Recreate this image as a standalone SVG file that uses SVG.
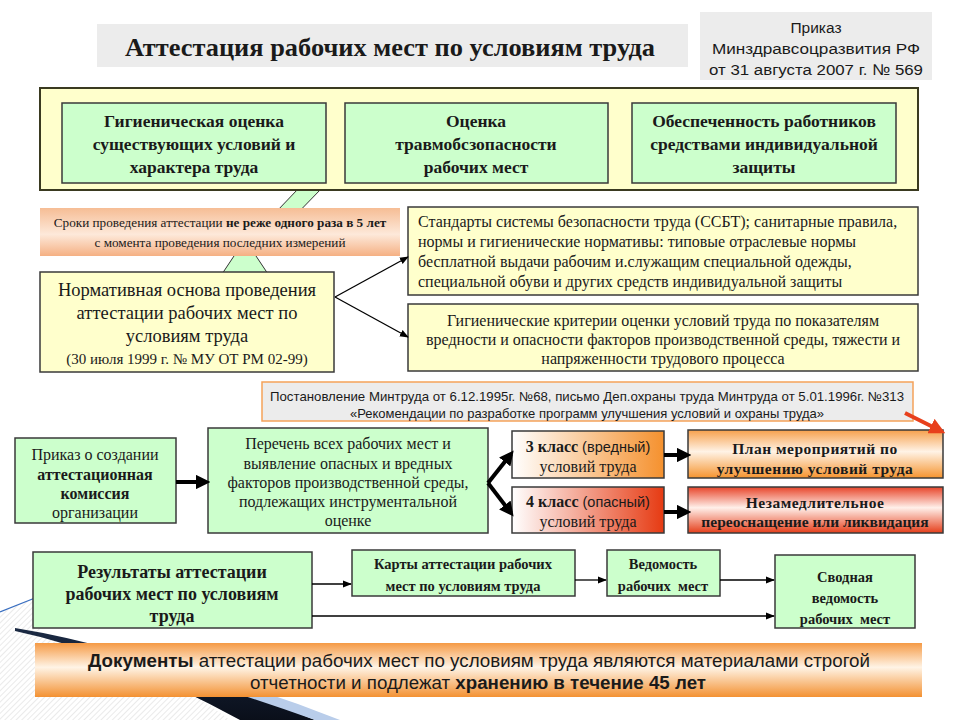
<svg xmlns="http://www.w3.org/2000/svg" width="960" height="720" viewBox="0 0 960 720">
<defs>
<style>
.bx{stroke:#3a3a3a;stroke-width:1.5}
.g{fill:#ccffcc}
.y{fill:#ffffcc}
.sf{font-family:"Liberation Serif","Times New Roman",serif;fill:#1a1a1a}
.ss{font-family:"Liberation Sans",Arial,sans-serif;fill:#1a1a1a}
.b{font-weight:bold}
.c{text-anchor:middle}
.thin{stroke:#000;stroke-width:1.3;fill:none}
.thick{stroke:#000;stroke-width:4;fill:none}
</style>
<marker id="ah" viewBox="0 0 10 10" refX="9" refY="5" markerWidth="9" markerHeight="9" markerUnits="userSpaceOnUse" orient="auto"><path d="M0,1 L10,5 L0,9 Z" fill="#000"/></marker>
<marker id="ahT" viewBox="0 0 10 10" refX="7" refY="5" markerWidth="3.6" markerHeight="3.6" orient="auto"><path d="M0,0 L10,5 L0,10 Z" fill="#000"/></marker>
<marker id="ahR" viewBox="0 0 10 10" refX="7" refY="5" markerWidth="4" markerHeight="4" orient="auto"><path d="M0,0 L10,5 L0,10 Z" fill="#e8401c"/></marker>
<linearGradient id="gSroki" x1="0" y1="0" x2="0" y2="1"><stop offset="0" stop-color="#f6bd95"/><stop offset="0.55" stop-color="#fde9da"/><stop offset="1" stop-color="#f5b083"/></linearGradient>
<linearGradient id="g3" x1="0" y1="0" x2="1" y2="0"><stop offset="0" stop-color="#ffffff"/><stop offset="1" stop-color="#f5912e"/></linearGradient>
<linearGradient id="g4" x1="0" y1="0" x2="1" y2="0"><stop offset="0" stop-color="#ffffff"/><stop offset="1" stop-color="#e63a12"/></linearGradient>
<linearGradient id="gPlan" x1="0" y1="0" x2="0" y2="1"><stop offset="0" stop-color="#f6a04c"/><stop offset="0.45" stop-color="#fff3e6"/><stop offset="1" stop-color="#f5942f"/></linearGradient>
<linearGradient id="gNez" x1="0" y1="0" x2="0" y2="1"><stop offset="0" stop-color="#e8452a"/><stop offset="0.45" stop-color="#fff0ea"/><stop offset="1" stop-color="#e53e1a"/></linearGradient>
<linearGradient id="gBan" x1="0" y1="0" x2="0" y2="1"><stop offset="0" stop-color="#f59a45"/><stop offset="0.45" stop-color="#fff4e6"/><stop offset="1" stop-color="#f39132"/></linearGradient>
<linearGradient id="gSw" x1="0" y1="0" x2="0" y2="1"><stop offset="0" stop-color="#1b2a44"/><stop offset="1" stop-color="#0a0f1a"/></linearGradient>
<pattern id="hatch" width="4" height="4" patternUnits="userSpaceOnUse" patternTransform="rotate(45)"><line x1="0" y1="0" x2="0" y2="4" stroke="#d6d6d6" stroke-width="1"/></pattern>
</defs>
<rect width="960" height="720" fill="#ffffff"/>

<g id="decoration">
<path d="M0,613 L40,596 L40,636 Q150,660 230,720 L0,720 Z" fill="url(#hatch)"/>
<path d="M0,612 L40,596" stroke="#3a6fc0" stroke-width="1.2" fill="none"/>
<path d="M15,628 Q140,648 315,720 L240,720 Q115,652 15,631 Z" fill="url(#gSw)"/>
<path d="M130,660 Q230,690 315,720 L340,720 Q240,680 130,655 Z" fill="#b9cdea"/>
</g>

<g id="title">
<rect x="97" y="24" width="591" height="43" fill="#ececec"/>
<text x="390" y="56" class="sf b c" font-size="26" textLength="530" lengthAdjust="spacingAndGlyphs">Аттестация рабочих мест по условиям труда</text>
</g>

<g id="order">
<rect x="700" y="12" width="232" height="68" fill="#ececec"/>
<text class="ss c" font-size="15.5" x="816" y="33">Приказ</text>
<text class="ss c" font-size="15.5" x="816" y="54" textLength="208" lengthAdjust="spacingAndGlyphs">Минздравсоцразвития РФ</text>
<text class="ss c" font-size="15.5" x="816" y="75" textLength="214" lengthAdjust="spacingAndGlyphs">от 31 августа 2007 г. № 569</text>
</g>

<g id="green-arrow">
<polygon points="298,189 321,189 256,256 268,274 222,274 234,256" fill="#ccffcc" stroke="#333" stroke-width="1"/>
</g>

<g id="top-block">
<rect x="40" y="88" width="878" height="102" fill="#ffffcc" stroke="#3a3a20" stroke-width="2"/>
</g>
<g id="hyg">
<rect x="62" y="103" width="264" height="80" class="bx g"/>
<text class="sf b c" font-size="17.5" x="194" y="127">Гигиеническая оценка</text>
<text class="sf b c" font-size="17.5" x="194" y="150">существующих условий и</text>
<text class="sf b c" font-size="17.5" x="194" y="173">характера труда</text>
</g>
<g id="trauma">
<rect x="345" y="103" width="263" height="80" class="bx g"/>
<text class="sf b c" font-size="17.5" x="476" y="127">Оценка</text>
<text class="sf b c" font-size="17.5" x="476" y="150">травмобсзопасности</text>
<text class="sf b c" font-size="17.5" x="476" y="173">рабочих мест</text>
</g>
<g id="ppe">
<rect x="632" y="103" width="264" height="80" class="bx g"/>
<text class="sf b c" font-size="17.5" x="764" y="127">Обеспеченность работников</text>
<text class="sf b c" font-size="17.5" x="764" y="150">средствами индивидуальной</text>
<text class="sf b c" font-size="17.5" x="764" y="173">защиты</text>
</g>

<g id="terms">
<rect x="40" y="208" width="360" height="48" fill="url(#gSroki)"/>
<text class="sf c" font-size="13.2" x="220" y="227">Сроки проведения аттестации <tspan class="b">не реже одного раза в 5 лет</tspan></text>
<text class="sf c" font-size="13.2" x="220" y="247">с момента проведения последних измерений</text>
</g>

<g id="normative">
<rect x="40" y="272" width="294" height="100" class="bx y"/>
<text class="sf c" font-size="18.5" x="187" y="296">Нормативная основа проведения</text>
<text class="sf c" font-size="18.5" x="187" y="319">аттестации рабочих мест по</text>
<text class="sf c" font-size="18.5" x="187" y="342">условиям труда</text>
<text class="sf c" font-size="15" x="187" y="364">(30 июля 1999 г. № МУ ОТ РМ 02-99)</text>
</g>

<g id="standards">
<rect x="408" y="207" width="510" height="88" class="bx y"/>
<text class="sf" font-size="16" x="418" y="227">Стандарты системы безопасности труда (ССБТ); санитарные правила,</text>
<text class="sf" font-size="16" x="418" y="247">нормы и гигиенические нормативы: типовые отраслевые нормы</text>
<text class="sf" font-size="16" x="418" y="267">бесплатной выдачи рабочим и.служащим специальной одежды,</text>
<text class="sf" font-size="16" x="418" y="287">специальной обуви и других средств индивидуальной защиты</text>
</g>

<g id="criteria">
<rect x="408" y="304" width="510" height="67" class="bx y"/>
<text class="sf c" font-size="16" x="663" y="326">Гигиенические критерии оценки условий труда по показателям</text>
<text class="sf c" font-size="16" x="663" y="345">вредности и опасности факторов производственной среды, тяжести и</text>
<text class="sf c" font-size="16" x="663" y="364">напряженности трудового процесса</text>
</g>

<g id="resolution">
<rect x="262" y="382" width="651" height="39" fill="#ececec" stroke="#f5a25a" stroke-width="1.5"/>
<text class="ss c" font-size="13" x="587" y="401" textLength="634" lengthAdjust="spacingAndGlyphs">Постановление Минтруда от 6.12.1995г. №68, письмо Деп.охраны труда Минтруда от 5.01.1996г. №313</text>
<text class="ss c" font-size="13" x="587" y="418">«Рекомендации по разработке программ улучшения условий и охраны труда»</text>
</g>

<g id="commission">
<rect x="15" y="438" width="161" height="85" class="bx g"/>
<text class="sf c" font-size="16" x="95" y="460">Приказ о создании</text>
<text class="sf c b" font-size="16" x="95" y="480">аттестационная</text>
<text class="sf c b" font-size="16" x="95" y="499">комиссия</text>
<text class="sf c" font-size="16" x="95" y="518">организации</text>
</g>

<g id="list">
<rect x="208" y="428" width="280" height="105" class="bx g"/>
<text class="sf c" font-size="16" x="348" y="449">Перечень всех рабочих мест и</text>
<text class="sf c" font-size="16" x="348" y="469">выявление опасных и вредных</text>
<text class="sf c" font-size="16" x="348" y="488">факторов производственной среды,</text>
<text class="sf c" font-size="16" x="348" y="507">подлежащих инструментальной</text>
<text class="sf c" font-size="16" x="348" y="526">оценке</text>
</g>

<g id="class3">
<rect x="512" y="431" width="152" height="47" fill="url(#g3)" class="bx"/>
<text class="sf c" font-size="16" x="588" y="452"><tspan class="b">3 класс</tspan> <tspan class="ss" font-size="14.5">(вредный)</tspan></text>
<text class="sf c" font-size="16" x="588" y="472">условий труда</text>
</g>
<g id="class4">
<rect x="512" y="487" width="152" height="46" fill="url(#g4)" class="bx"/>
<text class="sf c" font-size="16" x="588" y="507"><tspan class="b">4 класс</tspan> <tspan class="ss" font-size="14.5">(опасный)</tspan></text>
<text class="sf c" font-size="16" x="588" y="527">условий труда</text>
</g>

<g id="plan">
<rect x="688" y="430" width="255" height="48" fill="url(#gPlan)" class="bx"/>
<text class="sf c b" font-size="15.5" x="815" y="454" letter-spacing="0.5">План мероприятий по</text>
<text class="sf c b" font-size="15.5" x="815" y="474" letter-spacing="0.5">улучшению условий труда</text>
</g>
<g id="reequip">
<rect x="688" y="487" width="255" height="46" fill="url(#gNez)" class="bx"/>
<text class="sf c b" font-size="15.5" x="815" y="508" letter-spacing="0.5">Незамедлительное</text>
<text class="sf c b" font-size="15.5" x="815" y="527">переоснащение или ликвидация</text>
</g>

<g id="results">
<rect x="33" y="552" width="279" height="76" class="bx g"/>
<text class="sf c b" font-size="18" x="172" y="578">Результаты аттестации</text>
<text class="sf c b" font-size="18" x="172" y="600">рабочих мест по условиям</text>
<text class="sf c b" font-size="18" x="172" y="622">труда</text>
</g>
<g id="cards">
<rect x="352" y="550" width="223" height="46" class="bx g"/>
<text class="sf c b" font-size="14.5" x="463" y="569">Карты аттестации рабочих</text>
<text class="sf c b" font-size="14.5" x="463" y="591">мест по условиям труда</text>
</g>
<g id="statement">
<rect x="607" y="550" width="113" height="46" class="bx g"/>
<text class="sf c b" font-size="14.5" x="663" y="569">Ведомость</text>
<text class="sf c b" font-size="14.5" x="663" y="591" xml:space="preserve">рабочих  мест</text>
</g>
<g id="summary">
<rect x="775" y="555" width="140" height="73" class="bx g"/>
<text class="sf c b" font-size="14.5" x="845" y="582">Сводная</text>
<text class="sf c b" font-size="14.5" x="845" y="603">ведомость</text>
<text class="sf c b" font-size="14.5" x="845" y="624" xml:space="preserve">рабочих  мест</text>
</g>

<g id="banner">
<rect x="35" y="643" width="887" height="54" fill="url(#gBan)"/>
<text class="ss c" font-size="17.5" x="479" y="667" textLength="782" lengthAdjust="spacingAndGlyphs"><tspan class="b">Документы</tspan> аттестации рабочих мест по условиям труда являются материалами строгой</text>
<text class="ss c" font-size="17.5" x="478" y="689" textLength="456" lengthAdjust="spacingAndGlyphs">отчетности и подлежат <tspan class="b">хранению в течение 45 лет</tspan></text>
</g>

<g id="connectors">
<line x1="335" y1="297" x2="408" y2="257" class="thin" marker-end="url(#ah)"/>
<line x1="335" y1="297" x2="408" y2="337" class="thin" marker-end="url(#ah)"/>
<line x1="176" y1="482" x2="206" y2="482" class="thick" marker-end="url(#ahT)"/>
<line x1="488" y1="483" x2="511" y2="454" class="thick" marker-end="url(#ahT)"/>
<line x1="488" y1="483" x2="511" y2="513" class="thick" marker-end="url(#ahT)"/>
<line x1="664" y1="455" x2="687" y2="455" class="thick" marker-end="url(#ahT)"/>
<line x1="664" y1="512" x2="687" y2="512" class="thick" marker-end="url(#ahT)"/>
<line x1="312" y1="584" x2="351" y2="584" class="thin" stroke-width="2" marker-end="url(#ah)"/>
<line x1="575" y1="580" x2="606" y2="580" class="thin" stroke-width="2" marker-end="url(#ah)"/>
<line x1="720" y1="580" x2="774" y2="580" class="thin" stroke-width="2" marker-end="url(#ah)"/>
<line x1="312" y1="616" x2="774" y2="616" class="thin" stroke-width="2" marker-end="url(#ah)"/>
<line x1="905" y1="413" x2="941" y2="431" stroke="#e8401c" stroke-width="4" marker-end="url(#ahR)"/>
</g>
</svg>
